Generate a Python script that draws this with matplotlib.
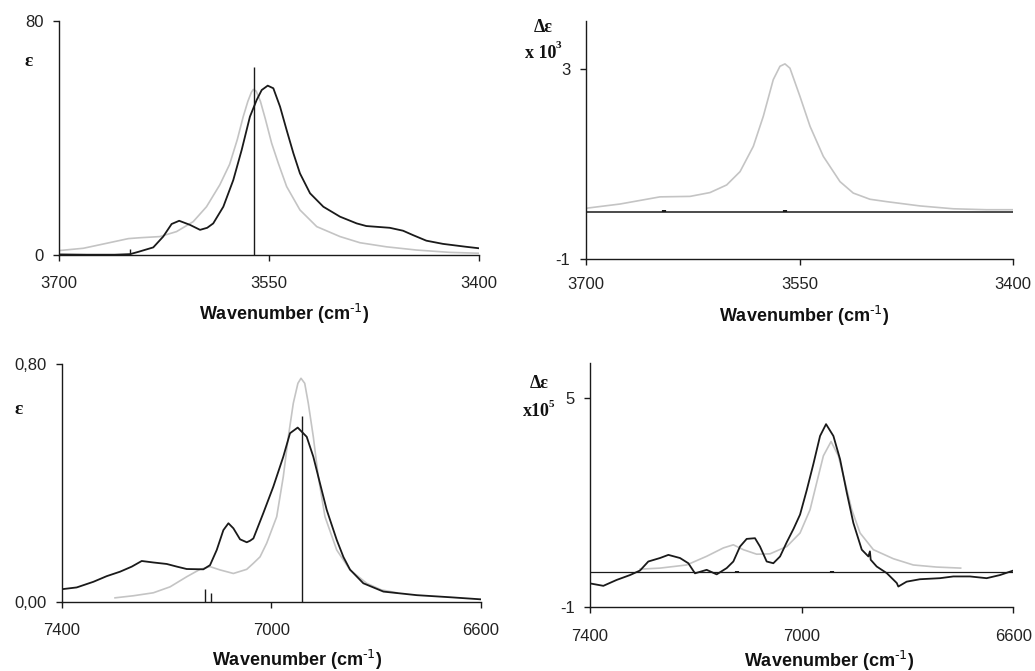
import matplotlib
matplotlib.use("Agg")
import matplotlib.pyplot as plt

plt.rcParams['font.family'] = ['Liberation Sans', 'DejaVu Sans']
plt.rcParams['mathtext.default'] = 'regular'

# ---------------- data: top-left (fundamental, epsilon) ----------------
tl_exp_x = [3700, 3680, 3660, 3649, 3643, 3632.5, 3625.4, 3619.4, 3614, 3606.3, 3599.1, 3594,
            3589.7, 3582.5, 3575.4, 3569.4, 3563.5, 3558.7, 3555.1, 3550.8, 3546.8, 3542,
            3537.3, 3532.5, 3527.8, 3520.6, 3511.1, 3499.2, 3487.3, 3480.4, 3463.7, 3454.2,
            3447.1, 3437.6, 3425.7, 3409.1, 3400]
tl_exp_y = [0.2, 0.1, 0.1, 0.3, 1.1, 2.6, 6.3, 10.6, 11.7, 10.3, 8.6, 9.3,
            10.8, 16.5, 25.6, 35.9, 47.3, 53.0, 56.4, 57.9, 57.0, 50.7,
            42.7, 34.8, 27.9, 21.1, 16.5, 13.1, 10.8, 9.9, 9.3, 8.3,
            6.8, 4.9, 3.8, 2.8, 2.3]
tl_calc_x = [3700, 3682.4, 3665.8, 3650.3, 3642, 3627.7, 3615.9, 3604, 3594.5, 3585, 3578,
             3572.5, 3568.3, 3565, 3562.5, 3561.1, 3559, 3556, 3552.5, 3548, 3543.2,
             3537.3, 3527.8, 3515.8, 3499.2, 3485, 3466.1, 3444.7, 3420.9, 3400]
tl_calc_y = [1.5, 2.3, 4.0, 5.6, 5.9, 6.3, 8.0, 11.4, 16.5, 24.0, 31.0,
             39.5, 47.3, 52.5, 55.6, 56.6, 56.0, 52.5, 46.5, 38.2, 31.3,
             23.4, 15.4, 9.7, 6.3, 4.2, 2.8, 1.7, 0.9, 0.6]
tl_stick_x = [3649, 3560.5]
tl_stick_y = [1.9, 64.2]

# ---------------- data: top-right (fundamental, delta epsilon x 10^3) ----------------
tr_calc_x = [3700, 3675.9, 3647.9, 3626.8, 3612.8, 3601.1, 3591.7, 3582.4, 3575.4, 3568.4,
             3563.7, 3560.2, 3556.7, 3549.7, 3542.6, 3533.3, 3521.6, 3512.3, 3500.6, 3488.9,
             3465.5, 3442.1, 3418.7, 3400]
tr_calc_y = [0.07, 0.16, 0.31, 0.32, 0.40, 0.56, 0.84, 1.37, 2.0, 2.77,
             3.05, 3.10, 3.01, 2.42, 1.79, 1.16, 0.63, 0.39, 0.26, 0.21,
             0.12, 0.06, 0.04, 0.04]
tr_zero_x = [3700, 3400]
tr_zero_y = [0, 0]
tr_stick_x = [3645, 3560]
tr_stick_y = [0.03, 0.03]

# ---------------- data: bottom-left (overtone, epsilon) ----------------
bl_exp_x = [7400, 7371.4, 7339.5, 7314, 7288.6, 7266.3, 7247.2, 7225, 7199.5, 7180, 7161.3,
            7129.5, 7116.8, 7104, 7091.3, 7081.7, 7072.2, 7059.5, 7046.7, 7040.5, 7034, 7015.1,
            6996, 6976.9, 6964.1, 6949.4, 6932.2, 6919.6, 6906.8, 6894, 6874.9, 6862, 6849.5,
            6824.1, 6785.7, 6722.1, 6658.4, 6600]
bl_exp_y = [0.042, 0.048, 0.067, 0.086, 0.101, 0.118, 0.137, 0.132, 0.127, 0.118, 0.110,
            0.109, 0.123, 0.174, 0.241, 0.264, 0.247, 0.210, 0.200, 0.205, 0.213, 0.298,
            0.387, 0.488, 0.567, 0.586, 0.555, 0.488, 0.398, 0.309, 0.208, 0.150, 0.108,
            0.062, 0.034, 0.022, 0.015, 0.008]
bl_calc_x = [7298.2, 7263.1, 7225, 7193.1, 7161.3, 7135.8, 7116.8, 7097.7, 7072.2, 7046.7,
             7034.2, 7021.3, 7008.6, 6989.5, 6976.9, 6967.3, 6957.8, 6949, 6943.1, 6936,
             6929.2, 6919.6, 6910.1, 6897.3, 6874.9, 6849.5, 6817.7, 6790, 6760]
bl_calc_y = [0.013, 0.020, 0.030, 0.050, 0.084, 0.109, 0.118, 0.107, 0.095, 0.109,
             0.129, 0.151, 0.197, 0.286, 0.421, 0.555, 0.668, 0.735, 0.752, 0.735,
             0.668, 0.555, 0.421, 0.286, 0.174, 0.107, 0.062, 0.040, 0.030]
bl_stick_x = [7126.3, 7115.5, 6941.7]
bl_stick_y = [0.042, 0.028, 0.625]

# ---------------- data: bottom-right (overtone, delta epsilon x 10^5) ----------------
br_exp_x = [7400, 7374.8, 7349.6, 7324.4, 7305.5, 7289.8, 7267.7, 7251.9, 7229.9, 7214.2,
            7201.6, 7179.5, 7160.6, 7141.7, 7129.1, 7116.5, 7103.9, 7088.2, 7078.7, 7066.1,
            7053.5, 7040.8, 7028.3, 7015, 7003, 6990.4, 6977.9, 6965.2, 6953.9, 6940, 6927.4,
            6914.7, 6902.3, 6886.4, 6873.9, 6871, 6869.5, 6858.2, 6839.1, 6820.2, 6817.3,
            6801.6, 6776.4, 6738.6, 6713.4, 6681.9, 6650.4, 6625.2, 6600]
br_exp_y = [-0.33, -0.40, -0.23, -0.09, 0.04, 0.30, 0.40, 0.49, 0.40, 0.25,
            -0.04, 0.06, -0.07, 0.11, 0.30, 0.73, 0.95, 0.97, 0.73, 0.30,
            0.25, 0.445, 0.85, 1.25, 1.65, 2.35, 3.10, 3.91, 4.25, 3.91, 3.24,
            2.28, 1.41, 0.64, 0.445, 0.59, 0.35, 0.156, -0.035, -0.32, -0.42,
            -0.28, -0.21, -0.18, -0.13, -0.13, -0.18, -0.09, 0.04]
br_calc_x = [7305.5, 7267.7, 7217.3, 7179.5, 7148, 7129.1, 7110.2, 7085, 7059.8, 7028.1,
             7003, 6984.1, 6971.5, 6958.9, 6944.4, 6930.6, 6917.9, 6905.3, 6889.6, 6864.5,
             6826.7, 6789, 6744.9, 6699.5]
br_calc_y = [0.08, 0.11, 0.20, 0.45, 0.69, 0.78, 0.64, 0.51, 0.52, 0.73,
             1.12, 1.79, 2.57, 3.34, 3.75, 3.34, 2.57, 1.79, 1.12, 0.64,
             0.38, 0.20, 0.14, 0.11]
br_zero_x = [7400, 6600]
br_zero_y = [0, 0]
br_stick_x = [7123, 6943]
br_stick_y = [0.04, 0.04]

x_ticks_top = [3700, 3550, 3400]
x_ticks_bot = [7400, 7000, 6600]

GRAY = '#c4c4c4'
BLACK = '#1a1a1a'

fig = plt.figure(figsize=(10.35, 6.71), dpi=100)
W, H = 1035, 671


def make_ax(x0, x1, y0, y1):
    return fig.add_axes([x0 / W, 1 - y1 / H, (x1 - x0) / W, (y1 - y0) / H])


def style(ax, xlim, ylim, xticks, yticks, ylabels, xpad=10):
    ax.set_xlim(*xlim)
    ax.set_ylim(*ylim)
    ax.set_xticks(xticks)
    ax.set_xticklabels([str(t) for t in xticks])
    ax.set_yticks(yticks)
    ax.set_yticklabels(ylabels)
    for s in ['top', 'right']:
        ax.spines[s].set_visible(False)
    for s in ['left', 'bottom']:
        ax.spines[s].set_linewidth(1.0)
        ax.spines[s].set_color(BLACK)
    ax.tick_params(axis='both', direction='out', length=4, width=1.0, colors=BLACK,
                   labelsize=12, labelcolor='#222222')
    ax.tick_params(axis='x', pad=xpad)
    ax.tick_params(axis='y', pad=7)
    ax.patch.set_alpha(0)


# top-left
ax1 = make_ax(58.7, 479, 21, 255)
ax1.plot(tl_calc_x, tl_calc_y, color=GRAY, lw=1.2)
ax1.plot(tl_exp_x, tl_exp_y, color=BLACK, lw=1.3)
ax1.vlines(tl_stick_x, 0, tl_stick_y, color=BLACK, lw=1.0)
style(ax1, (3700, 3400), (0, 80), x_ticks_top, [0, 80], ['0', '80'], xpad=11)

# top-right
ax2 = make_ax(585.7, 1013.3, 21, 259.3)
ax2.plot(tr_calc_x, tr_calc_y, color=GRAY, lw=1.2)
ax2.plot(tr_zero_x, tr_zero_y, color=BLACK, lw=1.1)
ax2.vlines(tr_stick_x, 0, tr_stick_y, color=BLACK, lw=3)
style(ax2, (3700, 3400), (-1, 4), x_ticks_top, [-1, 3], ['-1', '3'], xpad=9)

# bottom-left
ax3 = make_ax(61.7, 480.7, 364, 601.7)
ax3.plot(bl_calc_x, bl_calc_y, color=GRAY, lw=1.2)
ax3.plot(bl_exp_x, bl_exp_y, color=BLACK, lw=1.3)
ax3.vlines(bl_stick_x, 0, bl_stick_y, color=BLACK, lw=1.0)
style(ax3, (7400, 6600), (0, 0.8), x_ticks_bot, [0, 0.8], ['0,00', '0,80'], xpad=11)

# bottom-right
ax4 = make_ax(590, 1013.3, 363.3, 606.7)
ax4.plot(br_calc_x, br_calc_y, color=GRAY, lw=1.2)
ax4.plot(br_zero_x, br_zero_y, color=BLACK, lw=0.9)
ax4.vlines(br_stick_x, 0, br_stick_y, color=BLACK, lw=3)
ax4.plot(br_exp_x, br_exp_y, color=BLACK, lw=1.3)
style(ax4, (7400, 6600), (-1, 6), x_ticks_bot, [-1, 5], ['-1', '5'], xpad=12)


def ftxt(x, y, s, **kw):
    fig.text(x / W, 1 - y / H, s, **kw)


xl = r'Wavenumber (cm$^{\text{-1}}$)'
xl_kw = dict(ha='center', va='center', fontsize=13, fontweight='bold', color='#111111')
ftxt(284, 314, xl, **xl_kw)
ftxt(804, 316, xl, **xl_kw)
ftxt(297, 660, xl, **xl_kw)
ftxt(829, 661, xl, **xl_kw)

serif = ['Liberation Serif', 'DejaVu Serif']
dark = '#111111'
ftxt(29, 62, 'ε', ha='center', va='center', fontsize=14, fontweight='bold', family=serif, color=dark)
ftxt(19, 410, 'ε', ha='center', va='center', fontsize=14, fontweight='bold', family=serif, color=dark)
ftxt(543, 27, 'Δε', ha='center', va='center', fontsize=13, fontweight='bold', family=serif, color=dark)
ftxt(538.8, 383, 'Δε', ha='center', va='center', fontsize=13, fontweight='bold', family=serif, color=dark)
ftxt(525, 53, 'x 10', ha='left', va='center', fontsize=13, fontweight='bold', family=serif, color=dark)
ftxt(556, 45, '3', ha='left', va='center', fontsize=8, fontweight='bold', family=serif, color=dark)
ftxt(522.5, 412, 'x10', ha='left', va='center', fontsize=13, fontweight='bold', family=serif, color=dark)
ftxt(549, 405, '5', ha='left', va='center', fontsize=8, fontweight='bold', family=serif, color=dark)

fig.savefig('out.png', dpi=100)
